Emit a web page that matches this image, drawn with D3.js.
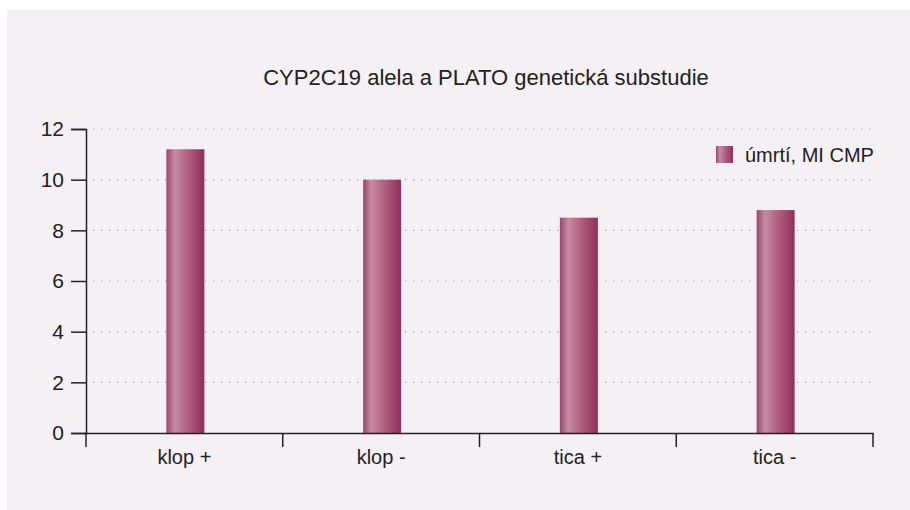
<!DOCTYPE html>
<html>
<head>
<meta charset="utf-8">
<script src="https://cdn.jsdelivr.net/npm/d3@7"></script>
<style>
  body { margin: 0; background: #fff; }
  text { font-family: "Liberation Sans", Arial, sans-serif; fill: #222; }
</style>
</head>
<body>
<div id="chart"></div>
<script>
// Data
const categories = ["klop +", "klop -", "tica +", "tica -"];
const values = [11.2, 10.0, 8.5, 8.8];
const yTicks = [0, 2, 4, 6, 8, 10, 12];
const seriesName = "úmrtí, MI CMP";
const title = "CYP2C19 alela a PLATO genetická substudie";

const W = 910, H = 510;
const margin = { top: 129, right: 37, bottom: 77, left: 86 };
const width = W - margin.left - margin.right;
const height = H - margin.top - margin.bottom;

const svg = d3.select("#chart").append("svg")
  .attr("width", W)
  .attr("height", H);

// panel background
svg.append("rect")
  .attr("x", 7).attr("y", 10)
  .attr("width", W - 7).attr("height", H - 10)
  .attr("fill", "#f5f0f4");

// bar gradient
const defs = svg.append("defs");
const grad = defs.append("linearGradient")
  .attr("id", "barGrad")
  .attr("x1", "0%").attr("x2", "100%").attr("y1", "0%").attr("y2", "0%");
[["0%", "#9c4470"], ["22%", "#c58ca4"], ["55%", "#b0607f"], ["100%", "#8f2f5a"]]
  .forEach(([o, c]) => grad.append("stop").attr("offset", o).attr("stop-color", c));

const g = svg.append("g").attr("transform", `translate(${margin.left},${margin.top})`);

const x = d3.scaleBand().domain(categories).range([0, width]).padding(0);
const y = d3.scaleLinear().domain([0, 12]).range([height, 0]);

// dotted gridlines
g.append("g")
  .selectAll("line")
  .data(yTicks.filter(d => d > 0))
  .join("line")
  .attr("x1", 7).attr("x2", width)
  .attr("y1", d => y(d)).attr("y2", d => y(d))
  .attr("stroke", "#999")
  .attr("stroke-width", 1.2)
  .attr("stroke-dasharray", "1.2,6.8");

// bars
const barW = 38;
g.append("g")
  .selectAll("rect")
  .data(values)
  .join("rect")
  .attr("x", (d, i) => x(categories[i]) + x.bandwidth() / 2 - barW / 2 + 1)
  .attr("y", d => y(d))
  .attr("width", barW)
  .attr("height", d => height - y(d))
  .attr("fill", "url(#barGrad)");

// y axis
const yAxis = g.append("g")
  .call(d3.axisLeft(y).tickValues(yTicks).tickSize(15).tickPadding(7));
yAxis.select(".domain").attr("stroke", "#222").attr("stroke-width", 1.5);
yAxis.selectAll(".tick line").attr("stroke", "#222").attr("stroke-width", 1.5);
yAxis.selectAll("text").attr("font-size", 21).attr("fill", "#2a2a2a")
  .attr("font-family", "Liberation Sans, Arial, sans-serif");

// x axis
const xAxis = g.append("g")
  .attr("transform", `translate(0,${height})`)
  .call(d3.axisBottom(x).tickSize(0).tickPadding(17));
xAxis.select(".domain").attr("stroke", "#222").attr("stroke-width", 1.5);
xAxis.selectAll("text").attr("font-size", 20).attr("fill", "#2a2a2a")
  .attr("font-family", "Liberation Sans, Arial, sans-serif");

// x boundary ticks between categories
const bounds = categories.map(c => x(c)).concat([width]);
g.append("g")
  .selectAll("line")
  .data(bounds)
  .join("line")
  .attr("x1", d => d).attr("x2", d => d)
  .attr("y1", height).attr("y2", height + 14)
  .attr("stroke", "#222")
  .attr("stroke-width", 1.5);

// title
svg.append("text")
  .attr("x", 486).attr("y", 85)
  .attr("text-anchor", "middle")
  .attr("font-size", 22)
  .text(title);

// legend
const legend = svg.append("g").attr("transform", "translate(716,146)");
legend.append("rect")
  .attr("width", 17).attr("height", 17)
  .attr("fill", "url(#barGrad)");
legend.append("text")
  .attr("x", 29).attr("y", 16)
  .attr("font-size", 20)
  .text(seriesName);
</script>
</body>
</html>
